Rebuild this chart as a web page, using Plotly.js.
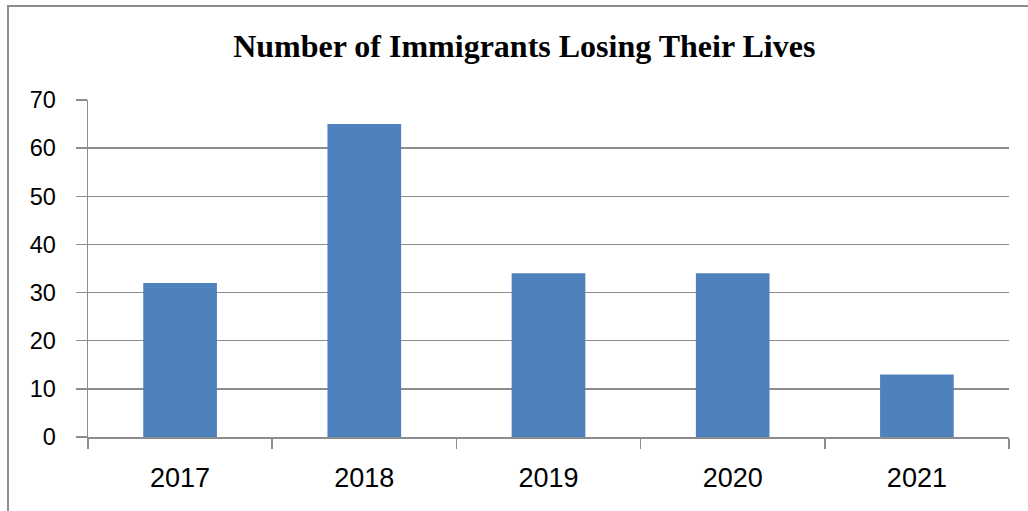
<!DOCTYPE html>
<html>
<head>
<meta charset="utf-8">
<script src="https://cdn.plot.ly/plotly-3.0.1.min.js"></script>
<style>
html,body{margin:0;padding:0;background:#fff;}
#chart{width:1028px;height:511px;}
</style>
</head>
<body>
<div id="chart"></div>
<script>
const years = ["2017", "2018", "2019", "2020", "2021"];
const deaths = [32, 65, 34, 34, 13];
const yTicks = [0, 10, 20, 30, 40, 50, 60, 70];
const chartTitle = "Number of Immigrants Losing Their Lives";

const trace = {
  type: "bar",
  x: years,
  y: deaths,
  marker: {color: "#4f81bd", line: {width: 0}},
  hoverinfo: "x+y"
};

const layout = {
  width: 1028,
  height: 511,
  margin: {l: 88, r: 19, t: 100, b: 74},
  paper_bgcolor: "#ffffff",
  plot_bgcolor: "#ffffff",
  bargap: 0.6,
  showlegend: false,
  title: {
    text: "<b>" + chartTitle + "</b>",
    font: {family: "Liberation Serif, Times New Roman, serif", size: 32, color: "#000"},
    xref: "container", x: 0.51, xanchor: "center",
    yref: "container", y: 1 - 46/511, yanchor: "middle"
  },
  xaxis: {
    type: "category",
    showgrid: false,
    showline: true,
    linecolor: "#8c8c8c",
    linewidth: 1.5,
    ticks: "outside",
    tickson: "boundaries",
    ticklen: 10,
    tickwidth: 1.5,
    tickcolor: "#8c8c8c",
    ticklabelstandoff: 16,
    tickfont: {family: "Liberation Sans, Arial, sans-serif", size: 27, color: "#000"},
    zeroline: false
  },
  yaxis: {
    range: [0, 70],
    tickvals: yTicks,
    showgrid: true,
    gridcolor: "#8c8c8c",
    gridwidth: 1.5,
    showline: true,
    linecolor: "#8c8c8c",
    linewidth: 1.5,
    ticks: "outside",
    ticklen: 11,
    tickwidth: 1.5,
    tickcolor: "#8c8c8c",
    ticklabelstandoff: 15,
    tickfont: {family: "Liberation Sans, Arial, sans-serif", size: 23.5, color: "#000"},
    zeroline: false
  },
  shapes: [{
    type: "rect",
    xref: "paper", yref: "paper",
    x0: (8 - 88) / 921, x1: (1032 - 88) / 921,
    y0: (437 - 520) / 337, y1: (437 - 6) / 337,
    line: {color: "#8c8c8c", width: 2},
    fillcolor: "rgba(0,0,0,0)",
    layer: "below"
  }]
};

Plotly.newPlot("chart", [trace], layout, {displayModeBar: false, staticPlot: true});
</script>
</body>
</html>
